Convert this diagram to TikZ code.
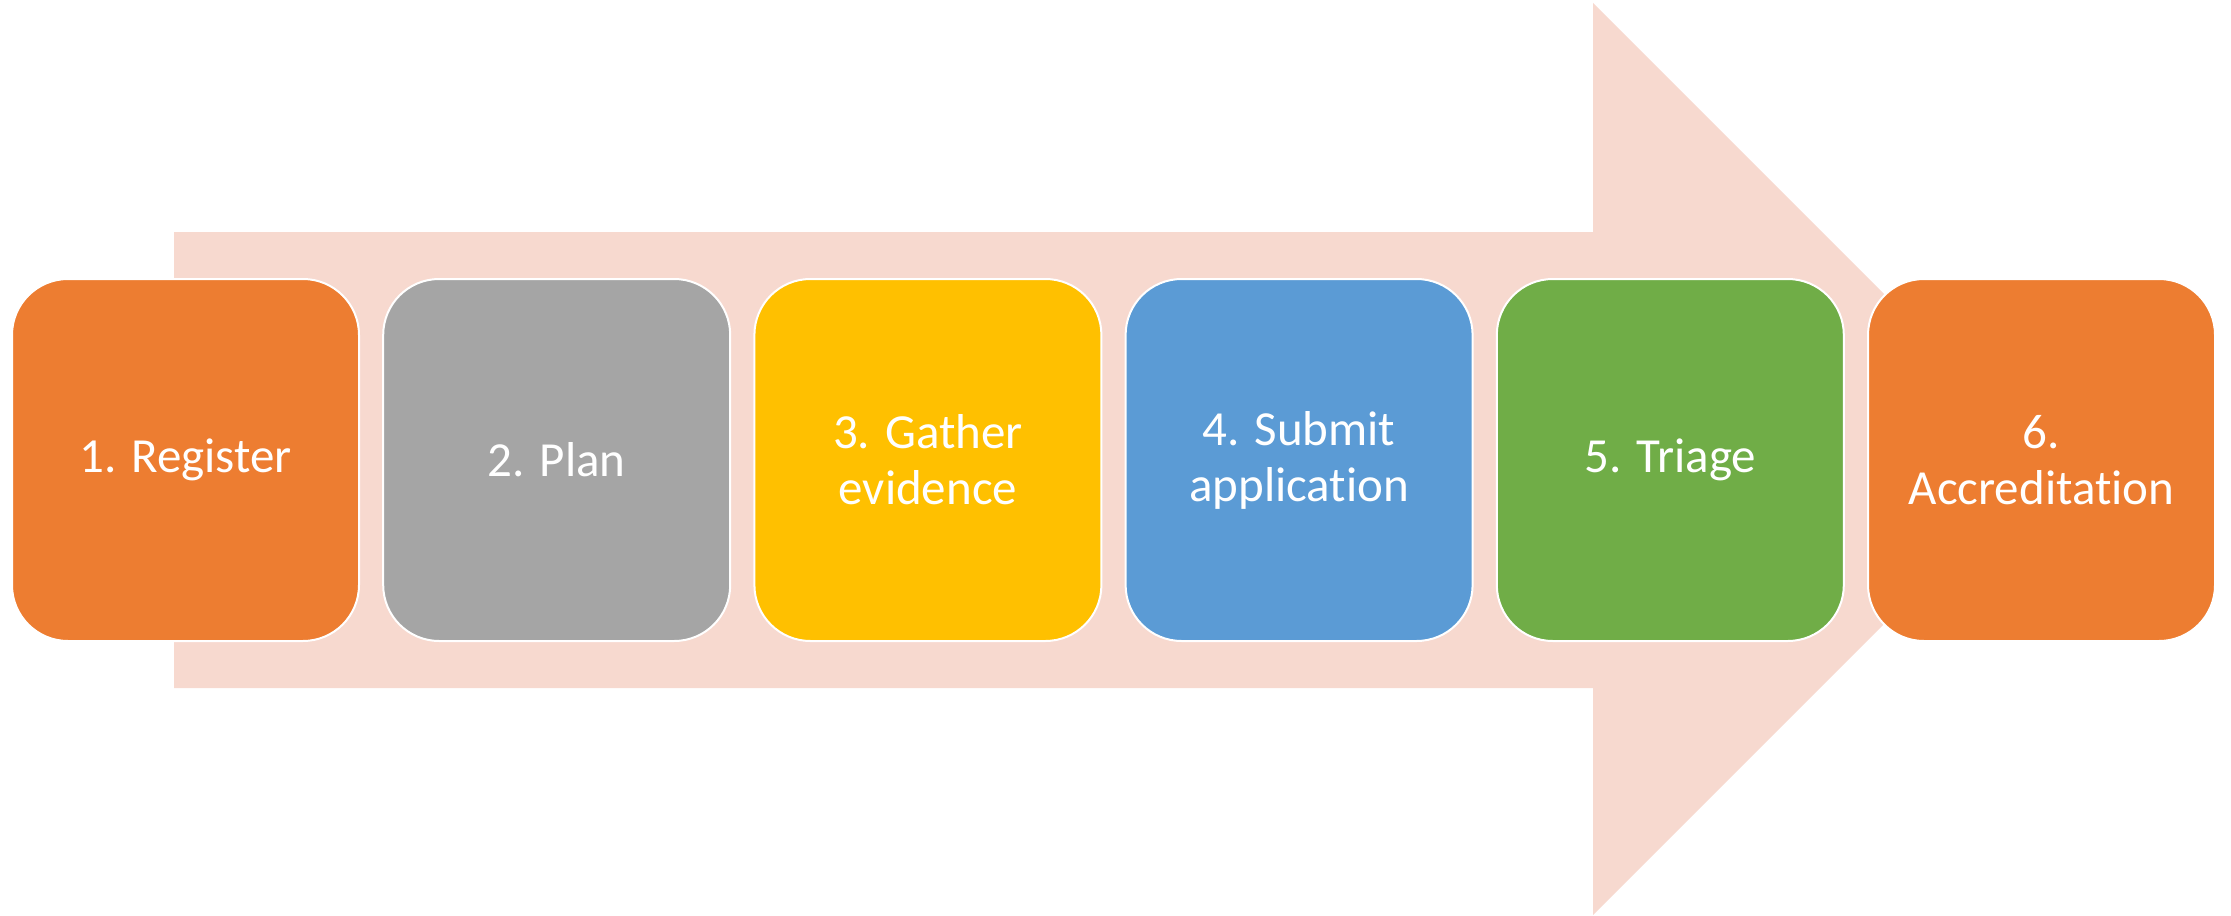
\documentclass[tikz,border=0pt]{standalone}
\usepackage{fontspec}
\setmainfont{Carlito}[Ligatures={NoCommon}]
\definecolor{arrowpink}{HTML}{F7D9CF}
\definecolor{cOrange}{HTML}{ED7D31}
\definecolor{cGray}{HTML}{A5A5A5}
\definecolor{cYellow}{HTML}{FFC000}
\definecolor{cBlue}{HTML}{5B9BD5}
\definecolor{cGreen}{HTML}{70AD47}
\tikzset{
  stepbox/.style={rectangle, rounded corners=28pt, draw=white, line width=1pt,
    minimum width=173.5pt, minimum height=181pt, inner sep=0pt,
    text=white, align=center, font=\fontsize{24.5}{28}\selectfont}
}
\begin{document}
\begin{tikzpicture}[x=0.5pt,y=-0.5pt]
\useasboundingbox (0,0) rectangle (2231,915);
\fill[arrowpink] (174,232) -- (1593,232) -- (1593,3) -- (2049,459) -- (1593,915) -- (1593,688) -- (174,688) -- cycle;
\node[stepbox, fill=cOrange] (b1) at (185.5,460) {1. Register};
\node[stepbox, fill=cGray] (b2) at (556.7,460) {2. Plan};
\node[stepbox, fill=cYellow] (b3) at (927.9,460) {3. Gather\\evidence};
\node[stepbox, fill=cBlue] (b4) at (1299.1,460) {4. Submit\\application};
\node[stepbox, fill=cGreen] (b5) at (1670.3,460) {5. Triage};
\node[stepbox, fill=cOrange] (b6) at (2041.5,460) {6.\\Accreditation};
\end{tikzpicture}
\end{document}
